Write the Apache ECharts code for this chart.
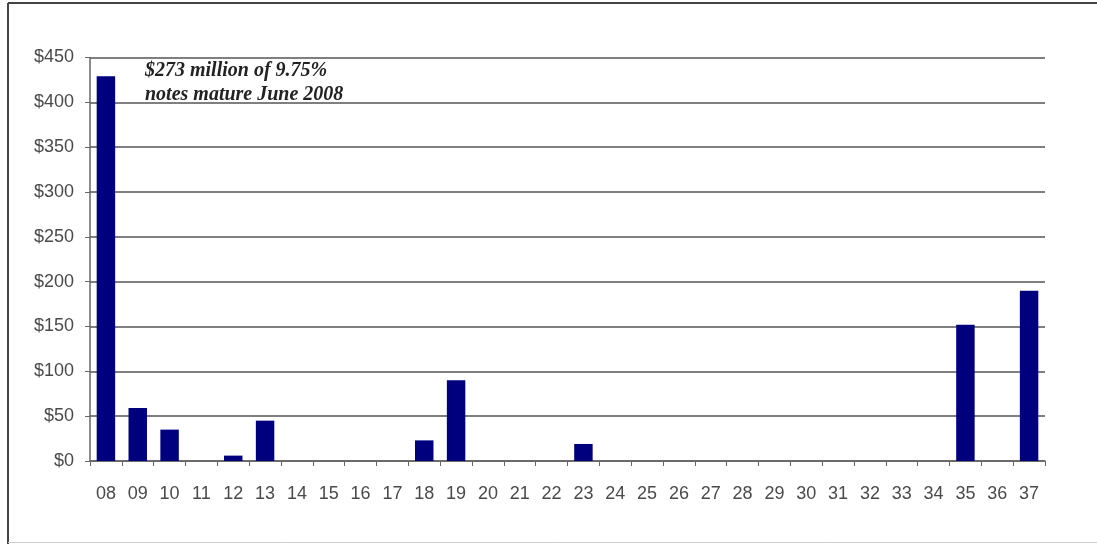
<!DOCTYPE html>
<html>
<head>
<meta charset="utf-8">
<script src="https://cdn.jsdelivr.net/npm/echarts@6/dist/echarts.min.js"></script>
<style>
  html, body { margin: 0; padding: 0; background: #fff; }
  #main { width: 1097px; height: 544px; }
</style>
</head>
<body>
<div id="main"></div>
<script>
// maturity years (two digit) and amounts in $ millions
var years = ['08', '09', '10', '11', '12', '13', '14', '15', '16', '17', '18', '19', '20', '21', '22',
             '23', '24', '25', '26', '27', '28', '29', '30', '31', '32', '33', '34', '35', '36', '37'];
var amounts = [429, 59, 35, 0, 6, 45, 0, 0, 0, 0, 23, 90, 0, 0, 0,
               19, 0, 0, 0, 0, 0, 0, 0, 0, 0, 0, 0, 152, 0, 190];
var noteLines = ['$273 million of 9.75%', 'notes mature June 2008'];

var chart = echarts.init(document.getElementById('main'));
var option = {
  backgroundColor: '#fff',
  animation: false,
  grid: { left: 90, right: 52, top: 57.5, bottom: 83 },
  graphic: [
    // frame: dark top/left, faint bottom, none on the right
    { type: 'line', shape: { x1: 8, y1: 3, x2: 1097, y2: 3 }, style: { stroke: '#444', lineWidth: 2 } },
    { type: 'line', shape: { x1: 8, y1: 3, x2: 8, y2: 544 }, style: { stroke: '#444', lineWidth: 2 } },
    { type: 'line', shape: { x1: 8, y1: 542.5, x2: 1097, y2: 542.5 }, style: { stroke: '#ccc', lineWidth: 1 } },
    {
      type: 'text',
      left: 145, top: 59,
      style: {
        text: noteLines.join('\n'),
        font: 'italic bold 20px "Liberation Serif", serif',
        lineHeight: 24,
        fill: '#222'
      }
    }
  ],
  xAxis: {
    type: 'category',
    data: years,
    axisLine: { lineStyle: { color: '#666', width: 1.5 } },
    axisTick: { show: true, inside: false, length: 5, lineStyle: { color: '#666' } },
    axisLabel: { color: '#4a4a4a', fontFamily: '"Liberation Sans", Arial', fontSize: 18, margin: 24, interval: 0 }
  },
  yAxis: {
    type: 'value',
    min: 0, max: 450, interval: 50,
    axisLine: { show: true, lineStyle: { color: '#666', width: 1.5 } },
    axisTick: { show: true, length: 5, lineStyle: { color: '#666' } },
    axisLabel: {
      color: '#4a4a4a', fontFamily: '"Liberation Sans", Arial', fontSize: 18, margin: 16,
      formatter: function (v) { return '$' + v; }
    },
    splitLine: { lineStyle: { color: '#555', width: 1.5 } }
  },
  series: [{
    type: 'bar',
    data: amounts,
    barWidth: '58%',
    itemStyle: { color: '#00007f' }
  }]
};
chart.setOption(option);
</script>
</body>
</html>
